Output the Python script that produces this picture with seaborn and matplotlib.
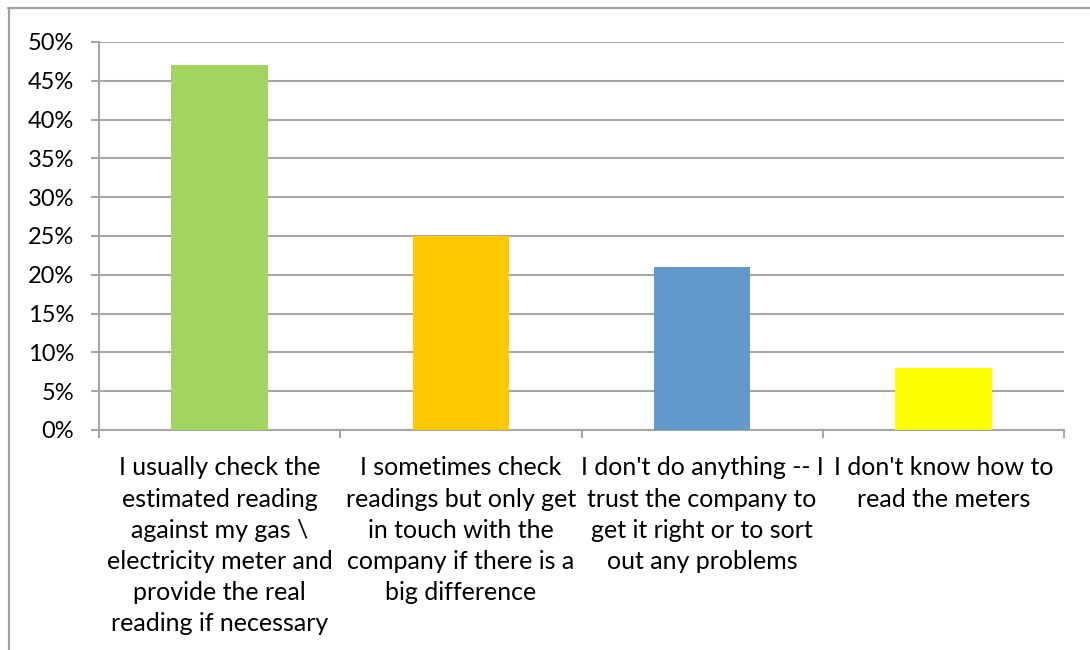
import matplotlib
matplotlib.use("Agg")
import matplotlib.pyplot as plt
import seaborn as sns
import pandas as pd
from matplotlib.lines import Line2D
from matplotlib.ticker import MultipleLocator, FuncFormatter, FixedLocator

categories = [
    "I usually check the\nestimated reading\nagainst my gas \\\nelectricity meter and\nprovide the real\nreading if necessary",
    "I sometimes check\nreadings but only get\nin touch with the\ncompany if there is a\nbig difference",
    "I don't do anything -- I\ntrust the company to\nget it right or to sort\nout any problems",
    "I don't know how to\nread the meters",
]
values = [47, 25, 21, 8]
colors = ["#A2D45E", "#FFC800", "#6199CB", "#FFFF00"]

sns.set_theme(style="white")
plt.rcParams['font.family'] = ['Lato', 'DejaVu Sans']

fig = plt.figure(figsize=(10.9, 6.5), dpi=100)
W, H = 1090, 650
ax = fig.add_axes([99 / W, 1 - 430 / H, (1064 - 99) / W, (430 - 42) / H])

df = pd.DataFrame({"cat": categories, "val": values})
sns.barplot(data=df, x="cat", y="val", hue="cat", palette=colors, legend=False,
            width=0.4, saturation=1, linewidth=0, ax=ax, zorder=3)

grid_col = "#A6A6A6"
ax.set_ylim(0, 50)
ax.set_xlim(-0.5, len(categories) - 0.5)
ax.yaxis.set_major_locator(MultipleLocator(5))
ax.yaxis.set_major_formatter(FuncFormatter(lambda v, p: f"{int(v)}%"))
ax.yaxis.grid(True, color=grid_col, linewidth=1.5, zorder=0)
ax.set_axisbelow(True)

for s in ["top", "right"]:
    ax.spines[s].set_visible(False)
for s in ["left", "bottom"]:
    ax.spines[s].set_color(grid_col)
    ax.spines[s].set_linewidth(1.5)

ax.tick_params(axis="y", which="major", left=True, length=6, width=1.5, color=grid_col,
               labelsize=17, pad=12, labelcolor="black")
ax.xaxis.set_minor_locator(FixedLocator([i - 0.5 for i in range(len(categories) + 1)]))
ax.tick_params(axis="x", which="minor", bottom=True, length=6, width=1.5, color=grid_col)
ax.tick_params(axis="x", which="major", bottom=False, length=0, labelsize=18, pad=19,
               labelcolor="black")
for t in ax.get_xticklabels():
    t.set_linespacing(1.43)
    t.set_verticalalignment("top")
ax.set_xlabel("")
ax.set_ylabel("")

border = "#A0A0A0"
fig.add_artist(Line2D([8 / W, 1.0], [1 - 7.5 / H, 1 - 7.5 / H], color=border, linewidth=1.6,
                      transform=fig.transFigure))
fig.add_artist(Line2D([8.5 / W, 8.5 / W], [0, 1 - 7.5 / H], color=border, linewidth=1.6,
                      transform=fig.transFigure))

fig.savefig("out.png", dpi=100, facecolor="white")
